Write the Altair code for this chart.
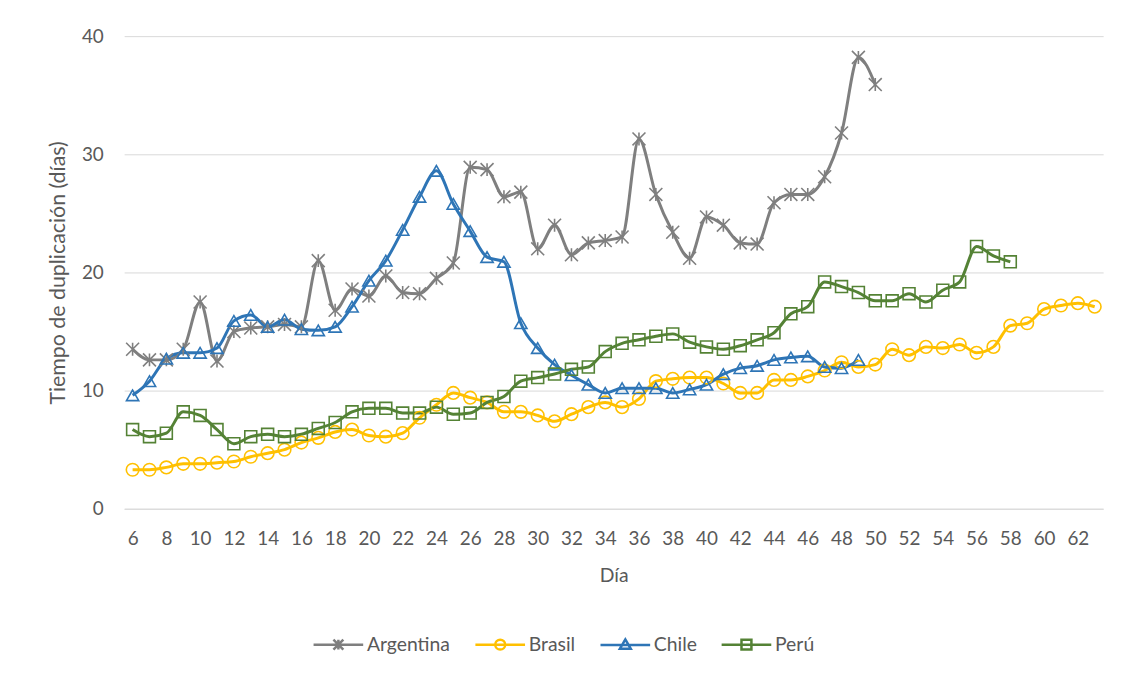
import altair as alt
import pandas as pd

countries = ["Argentina", "Brasil", "Chile", "Perú"]
colors = ["#7F7F7F", "#FFC000", "#2E75B6", "#548235"]

argentina_start = 6
argentina = [13.5, 12.6, 12.6, 13.5, 17.5, 12.5, 15.0, 15.3, 15.4, 15.6,
             15.4, 21.0, 16.8, 18.6, 18.0, 19.7, 18.3, 18.2, 19.5, 20.8,
             28.9, 28.7, 26.4, 26.8, 22.0, 24.0, 21.5, 22.5, 22.7, 23.0,
             31.3, 26.6, 23.4, 21.2, 24.7, 24.0, 22.5, 22.4, 25.9, 26.6,
             26.6, 28.1, 31.8, 38.2, 35.9]
brasil_start = 6
brasil = [3.3, 3.3, 3.5, 3.8, 3.8, 3.9, 4.0, 4.4, 4.7, 5.0,
          5.6, 6.0, 6.5, 6.7, 6.2, 6.1, 6.4, 7.7, 8.8, 9.8,
          9.4, 9.0, 8.2, 8.2, 7.9, 7.4, 8.0, 8.6, 9.0, 8.6,
          9.3, 10.8, 11.0, 11.1, 11.1, 10.6, 9.8, 9.8, 10.9, 10.9,
          11.2, 11.7, 12.4, 12.0, 12.2, 13.5, 13.0, 13.7, 13.6, 13.9,
          13.2, 13.7, 15.5, 15.7, 16.9, 17.2, 17.4, 17.1]
chile_start = 6
chile = [9.6, 10.8, 12.7, 13.2, 13.2, 13.6, 15.9, 16.4, 15.4, 16.0,
         15.2, 15.1, 15.4, 17.1, 19.3, 21.0, 23.6, 26.4, 28.6, 25.8,
         23.5, 21.3, 20.9, 15.7, 13.6, 12.2, 11.3, 10.5, 9.8, 10.2,
         10.2, 10.2, 9.8, 10.1, 10.5, 11.4, 11.9, 12.1, 12.6, 12.8,
         12.9, 12.0, 11.9, 12.6]
peru_start = 6
peru = [6.7, 6.1, 6.4, 8.2, 7.9, 6.7, 5.5, 6.1, 6.3, 6.1,
        6.3, 6.8, 7.3, 8.2, 8.5, 8.5, 8.1, 8.1, 8.6, 8.0,
        8.1, 9.0, 9.5, 10.8, 11.1, 11.4, 11.8, 12.0, 13.3, 14.0,
        14.3, 14.6, 14.8, 14.1, 13.7, 13.5, 13.8, 14.3, 14.9, 16.5,
        17.1, 19.2, 18.8, 18.3, 17.6, 17.6, 18.2, 17.5, 18.5, 19.2,
        22.2, 21.4, 20.9]

x_ticks = list(range(6, 63, 2))
y_ticks = [0, 10, 20, 30, 40]

rows = []
for name, start, vals in [("Argentina", argentina_start, argentina),
                          ("Brasil", brasil_start, brasil),
                          ("Chile", chile_start, chile),
                          ("Perú", peru_start, peru)]:
    for i, v in enumerate(vals):
        rows.append({"dia": start + i, "valor": v, "pais": name})
df = pd.DataFrame(rows)

marker_paths = ["M-1,-1L1,1M-1,1L1,-1M0,-1L0,1", "circle", "triangle-up", "square"]
marker_sizes = [170, 144, 150, 121]
legend_paths = [
    "M-1,0L9,0M3,-1L5,1M3,1L5,-1M4,-1L4,1",
    "M-1,0L9,0M3,0A1,1 0 1,0 5,0A1,1 0 1,0 3,0",
    "M-1,0L9,0M4,-1.1L5.1,0.8L2.9,0.8Z",
    "M-1,0L9,0M3,-1L5,-1L5,1L3,1Z",
]

TXT = "#595959"
FONT = "Lato"

x_enc = alt.X("dia:Q", scale=alt.Scale(domain=[5.5, 63.5], nice=False, zero=False),
              axis=alt.Axis(values=x_ticks, grid=False, domain=True, domainColor="#D9D9D9",
                            domainWidth=1, ticks=False, labelPadding=21, labelOverlap=False,
                            labelFlush=False, title="Día", titlePadding=18))
y_enc = alt.Y("valor:Q", scale=alt.Scale(domain=[0, 40], nice=False),
              axis=alt.Axis(values=y_ticks, grid=True, gridColor="#D9D9D9", gridWidth=1,
                            domain=False, ticks=False, labelPadding=21, titlePadding=12,
                            titleFontSize=21.5,
                            title="Tiempo de duplicación (días)"))

color_scale = alt.Scale(domain=countries, range=colors)

base = alt.Chart(df)

lines = base.mark_line(strokeWidth=3, interpolate="monotone").encode(
    x=x_enc, y=y_enc,
    color=alt.Color("pais:N", scale=color_scale, legend=None),
    detail="pais:N",
    order="dia:Q",
)

points = base.mark_point(filled=False, strokeWidth=1.6, opacity=1).encode(
    x=x_enc, y=y_enc,
    color=alt.Color("pais:N", scale=color_scale, legend=None),
    shape=alt.Shape("pais:N", scale=alt.Scale(domain=countries, range=marker_paths), legend=None),
    size=alt.Size("pais:N", scale=alt.Scale(domain=countries, range=marker_sizes), legend=None),
)

leg = alt.Legend(orient="none", legendX=186, legendY=603, direction="horizontal",
                 title=None, labelFont=FONT, labelFontSize=19.5, labelColor=TXT,
                 symbolSize=100, symbolStrokeWidth=2.5, symbolOpacity=1,
                 labelOffset=39, columnPadding=19, padding=0)

legend_layer = base.mark_point(filled=False, opacity=0).encode(
    x=x_enc, y=y_enc,
    color=alt.Color("pais:N", scale=color_scale, legend=leg),
    shape=alt.Shape("pais:N", scale=alt.Scale(domain=countries, range=legend_paths), legend=leg),
)

chart = alt.layer(lines, points, legend_layer).resolve_scale(
    color="independent", shape="independent", size="independent"
).properties(
    width=986, height=476,
    autosize=alt.AutoSizeParams(type="none"),
    padding={"left": 117, "top": 26, "right": 20, "bottom": 150},
    background="white",
).configure_view(stroke=None).configure_axis(
    labelFont=FONT, labelFontSize=19, labelColor=TXT,
    titleFont=FONT, titleFontSize=19.5, titleFontWeight="normal", titleColor=TXT,
)

chart.save("out.html", embed_options={"renderer": "svg", "actions": False})
